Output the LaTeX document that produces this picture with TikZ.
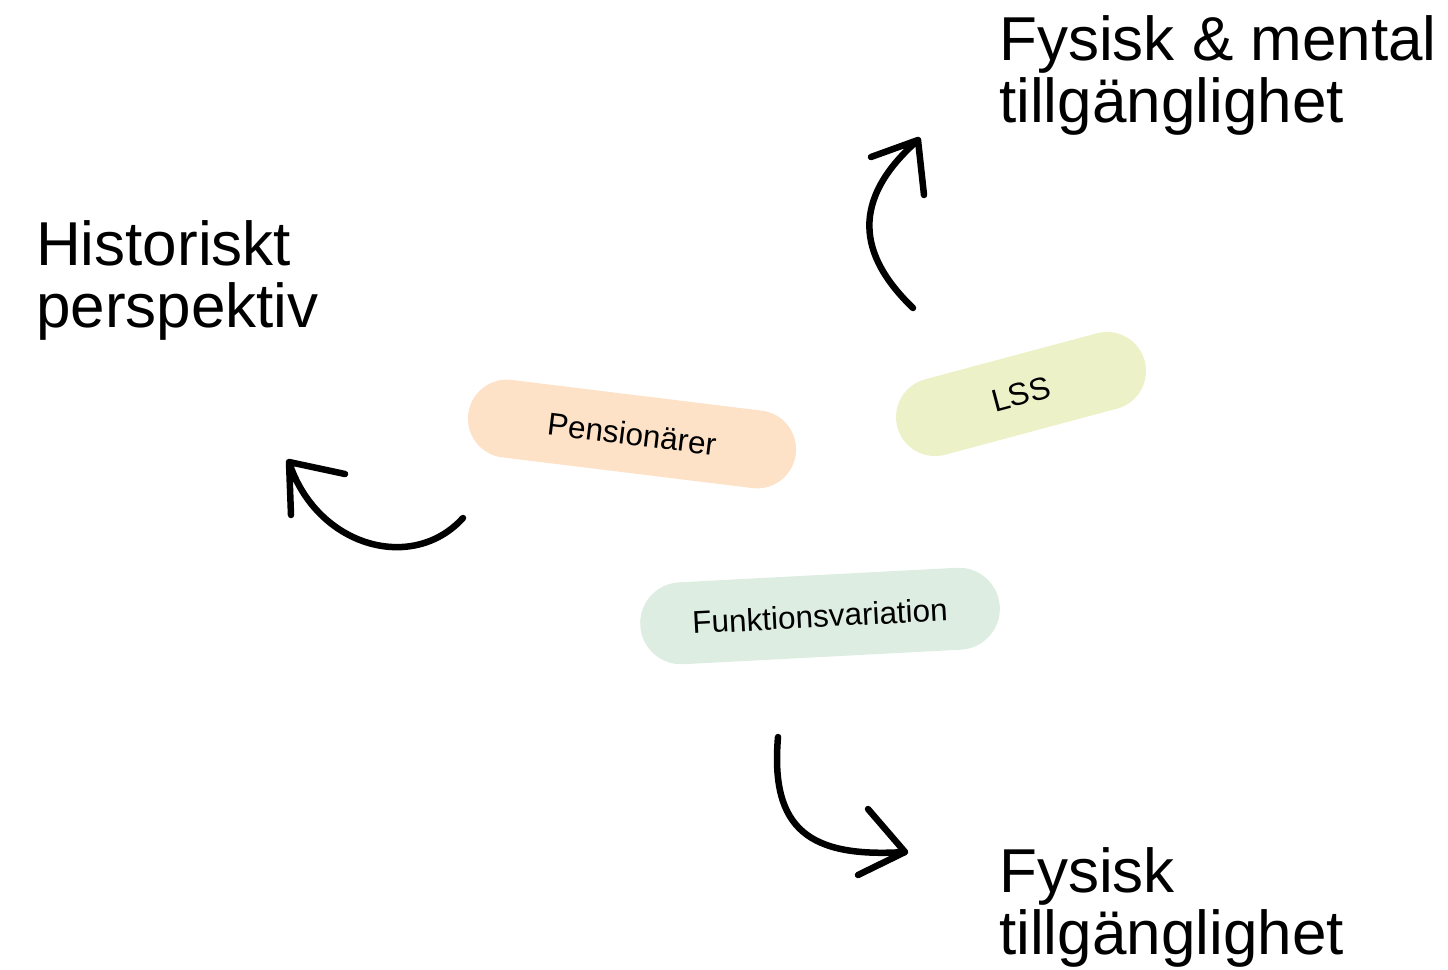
\documentclass[tikz,border=0pt]{standalone}
\usepackage{fontspec}
\setmainfont{Liberation Sans}
\usetikzlibrary{shapes.misc}

\definecolor{peach}{HTML}{FDE2C7}
\definecolor{lime}{HTML}{ECF1C7}
\definecolor{mint}{HTML}{DDEDE2}

\begin{document}
\begin{tikzpicture}[x=1pt, y=-1pt,
    pill/.style={rounded rectangle, minimum height=78pt, inner sep=0pt, font=\fontsize{31.5}{31.5}\selectfont},
    big/.style={anchor=base west, align=left, inner sep=0pt, font=\fontsize{62}{62}\selectfont},
    hand/.style={line width=6.5pt, line cap=round, line join=round}]
    \useasboundingbox (0,0) rectangle (1448,969);
    % the three pills
    \node (pens) [pill, fill=peach, minimum width=330pt, rotate=-7] at (632,434) {Pensionärer};
    \node (lss)  [pill, fill=lime,  minimum width=256pt, rotate=15] at (1021,394) {LSS};
    \node (funk) [pill, fill=mint,  minimum width=360pt, minimum height=82pt, rotate=3] at (820,616) {Funktionsvariation};
    % headings (anchored at the last line)
    \node (hist)   [big] at (36,327) {Historiskt\\perspektiv};
    \node (mental) [big] at (999,122) {Fysisk \& mental\\tillgänglighet};
    \node (fys)    [big] at (999,954) {Fysisk\\tillgänglighet};
    % hand drawn arrows
    \coordinate (upTail) at (913,308);
    \coordinate (upTip) at (918,140);
    \coordinate (leftTail) at (463,518);
    \coordinate (leftTip) at (289,462);
    \coordinate (downTail) at (778,737);
    \coordinate (downTip) at (905,852);
    \draw[hand] (upTail) .. controls (858,255) and (850,200) .. (upTip) -- +(-47,17) (upTip) -- +(6,55);
    \draw[hand] (leftTail) .. controls (412,574) and (316,546) .. (leftTip) -- +(56,12) (leftTip) -- +(2,53);
    \draw[hand] (downTail) .. controls (770,830) and (810,858) .. (downTip) -- +(-37,-43) (downTip) -- +(-47,23);
\end{tikzpicture}
\end{document}
